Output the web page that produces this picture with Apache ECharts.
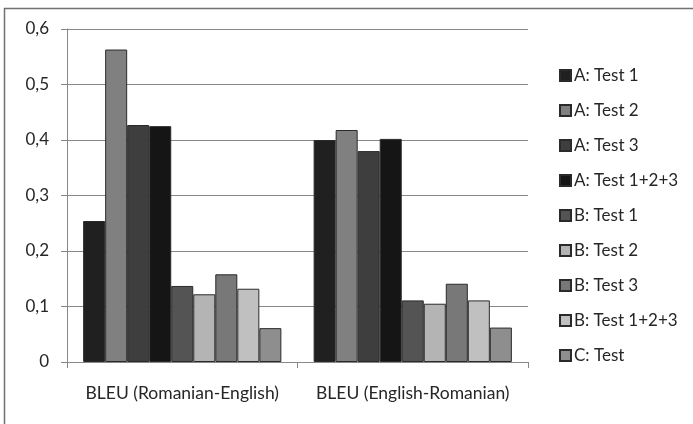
<!DOCTYPE html>
<html>
<head>
<meta charset="utf-8">
<script src="https://cdn.jsdelivr.net/npm/echarts@6/dist/echarts.min.js"></script>
<style>
  html, body { margin: 0; padding: 0; background: #fff; }
  #chart { width: 693px; height: 424px; }
</style>
</head>
<body>
<div id="chart"></div>
<script>
const categories = ["BLEU (Romanian-English)", "BLEU (English-Romanian)"];
const seriesNames = ["A: Test 1", "A: Test 2", "A: Test 3", "A: Test 1+2+3",
    "B: Test 1", "B: Test 2", "B: Test 3", "B: Test 1+2+3", "C: Test"];
const seriesValues = [
    [0.254, 0.400],
    [0.563, 0.418],
    [0.427, 0.380],
    [0.425, 0.402],
    [0.137, 0.111],
    [0.122, 0.105],
    [0.158, 0.141],
    [0.132, 0.111],
    [0.061, 0.062]
];
const barColors = ["#202020", "#808080", "#3e3e3e", "#151515",
    "#545454", "#b4b4b4", "#787878", "#c0c0c0", "#8e8e8e"];

const fontFamily = "Lato, 'Open Sans', sans-serif";

const chart = echarts.init(document.getElementById("chart"));

const option = {
    animation: false,
    backgroundColor: "#fff",
    textStyle: { fontFamily: fontFamily },
    grid: { left: 67, right: 165, top: 29, bottom: 62, containLabel: false },
    legend: {
        orient: "vertical",
        left: 554,
        top: 62,
        itemWidth: 11,
        itemHeight: 11,
        itemGap: 18,
        icon: "rect",
        textStyle: { fontSize: 17, color: "#262626", fontFamily: fontFamily, padding: [0, 0, 0, -2] },
        data: seriesNames
    },
    xAxis: {
        type: "category",
        data: categories,
        axisLine: { lineStyle: { color: "#888", width: 1 } },
        axisTick: { show: true, alignWithLabel: false, length: 6, lineStyle: { color: "#888" } },
        axisLabel: { interval: 0, hideOverlap: false, fontSize: 17.5, color: "#262626", margin: 22 }
    },
    yAxis: {
        type: "value",
        min: 0,
        max: 0.6,
        interval: 0.1,
        axisLine: { show: true, lineStyle: { color: "#888" } },
        axisTick: { show: true, length: 6, lineStyle: { color: "#888" } },
        splitLine: { lineStyle: { color: "#888", width: 1 } },
        axisLabel: {
            fontSize: 17,
            color: "#262626",
            margin: 18,
            formatter: v => v === 0 ? "0" : v.toFixed(1).replace(".", ",")
        }
    },
    series: seriesNames.map((name, i) => ({
        name: name,
        type: "bar",
        data: seriesValues[i],
        barGap: "0%",
        barCategoryGap: "14%",
        itemStyle: { color: barColors[i], borderColor: "#2a2a2a", borderWidth: 1 }
    })),
    graphic: [{
        type: "rect",
        left: 2,
        top: 6,
        shape: { width: 700, height: 430 },
        style: { fill: "none", stroke: "#707070", lineWidth: 1.5 },
        silent: true
    }]
};

chart.setOption(option);
</script>
</body>
</html>
